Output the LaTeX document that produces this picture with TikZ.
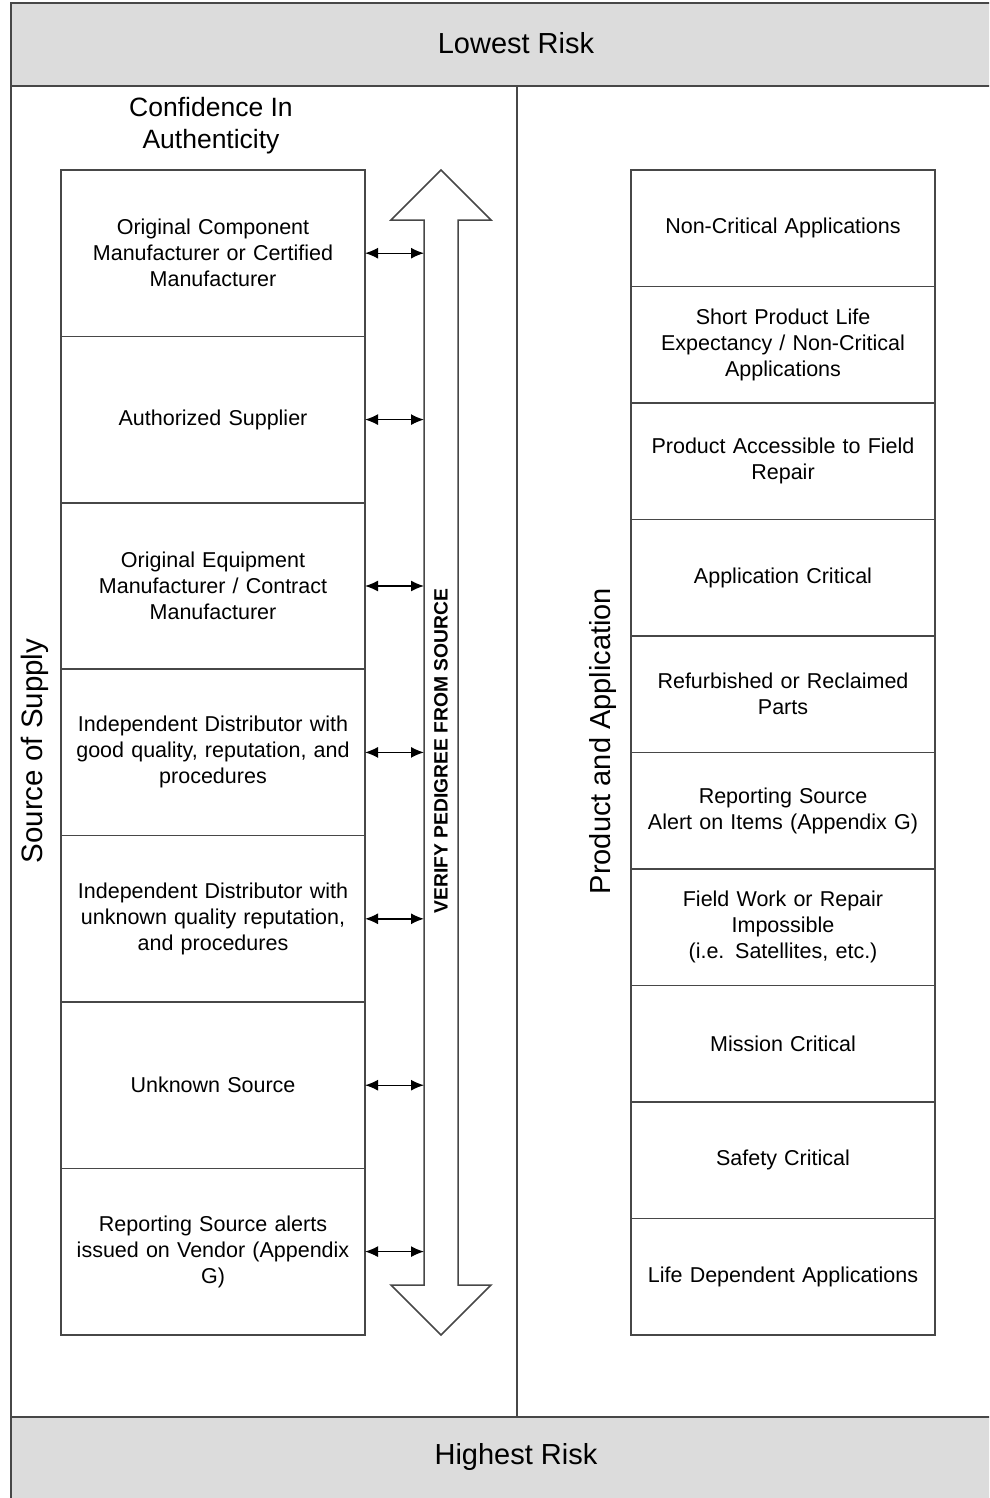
\documentclass[tikz,border=0pt]{standalone}
\usepackage{fontspec}
\setmainfont{Liberation Sans}
\usetikzlibrary{positioning,arrows.meta}

\definecolor{bandgray}{HTML}{DCDCDC}
\definecolor{edgegray}{HTML}{474747}

\begin{document}
\begin{tikzpicture}[
	x=1pt, y=-1pt,
	node distance=0pt,
	block/.style={
		rectangle,
		draw=edgegray, line width=1.5pt,
		minimum width=304pt, inner sep=0pt, outer sep=0pt,
		text width=296pt, align=center,
		font=\fontsize{21.5}{26}\selectfont
	},
	lblock/.style={block, minimum height=166.4pt},
	rblock/.style={block, minimum height=116.5pt},
	band/.style={draw=edgegray, line width=1.5pt, fill=bandgray},
	heading/.style={font=\fontsize{29}{32}\selectfont, align=center},
	line/.style={draw, line width=1.4pt, {Latex[length=13pt,width=11pt]}-{Latex[length=13pt,width=11pt]}},
	]
	\useasboundingbox (0,0) rectangle (989,1498);
	\clip (0,0) rectangle (989,1498);

	% frame
	\path [band] (11,3) rectangle (995,86);
	\path [band] (11,1417) rectangle (995,1504);
	\draw [edgegray, line width=1.5pt] (11,86) -- (11,1417);
	\draw [edgegray, line width=1.5pt] (517,86) -- (517,1417);

	\node [heading] (low) at (516,43) {Lowest Risk};
	\node [heading] (high) at (516,1457) {Highest Risk};
	\node [heading, font=\fontsize{26.5}{32}\selectfont] (conf) at (211,126) {Confidence In\\Authenticity};
	\node [heading, font=\fontsize{29.5}{32}\selectfont, rotate=90] (supply) at (35,751) {Source of Supply};
	\node [heading, rotate=90] (product) at (603,741) {Product and Application};

	% source of supply
	\node [lblock] (l1) at (213,253.2) {Original Component\\Manufacturer or Certified\\Manufacturer};
	\node [lblock, below=of l1] (l2) {Authorized Supplier};
	\node [lblock, below=of l2] (l3) {Original Equipment\\Manufacturer / Contract\\Manufacturer};
	\node [lblock, below=of l3] (l4) {Independent Distributor with\\good quality, reputation, and\\procedures};
	\node [lblock, below=of l4] (l5) {Independent Distributor with\\unknown quality reputation,\\and procedures};
	\node [lblock, below=of l5] (l6) {Unknown Source};
	\node [lblock, below=of l6] (l7) {Reporting Source alerts\\issued on Vendor (Appendix\\G)};

	% product and application
	\node [rblock] (r1) at (783,228.25) {Non-Critical Applications};
	\node [rblock, below=of r1] (r2) {Short Product Life\\Expectancy / Non-Critical\\Applications};
	\node [rblock, below=of r2] (r3) {Product Accessible to Field\\Repair};
	\node [rblock, below=of r3] (r4) {Application Critical};
	\node [rblock, below=of r4] (r5) {Refurbished or Reclaimed\\Parts};
	\node [rblock, below=of r5] (r6) {Reporting Source\\Alert on Items (Appendix G)};
	\node [rblock, below=of r6] (r7) {Field Work or Repair\\Impossible\\(i.e. Satellites, etc.)};
	\node [rblock, below=of r7] (r8) {Mission Critical};
	\node [rblock, below=of r8] (r9) {Safety Critical};
	\node [rblock, below=of r9] (r10) {Life Dependent Applications};

	% verify arrow
	\draw [edgegray, line width=1.5pt, fill=white]
		(441,170) -- (491,220) -- (458,220) -- (458,1285) -- (491,1285)
		-- (441,1335) -- (391,1285) -- (424,1285) -- (424,220) -- (391,220) -- cycle;
	\node [rotate=90, font=\fontsize{19.3}{22}\bfseries] (verify) at (441,751) {VERIFY PEDIGREE FROM SOURCE};
	\coordinate (shaft) at (424,0);

	\path [line] (l1.east) -- (l1.east -| shaft);
	\path [line] (l2.east) -- (l2.east -| shaft);
	\path [line] (l3.east) -- (l3.east -| shaft);
	\path [line] (l4.east) -- (l4.east -| shaft);
	\path [line] (l5.east) -- (l5.east -| shaft);
	\path [line] (l6.east) -- (l6.east -| shaft);
	\path [line] (l7.east) -- (l7.east -| shaft);
\end{tikzpicture}
\end{document}
